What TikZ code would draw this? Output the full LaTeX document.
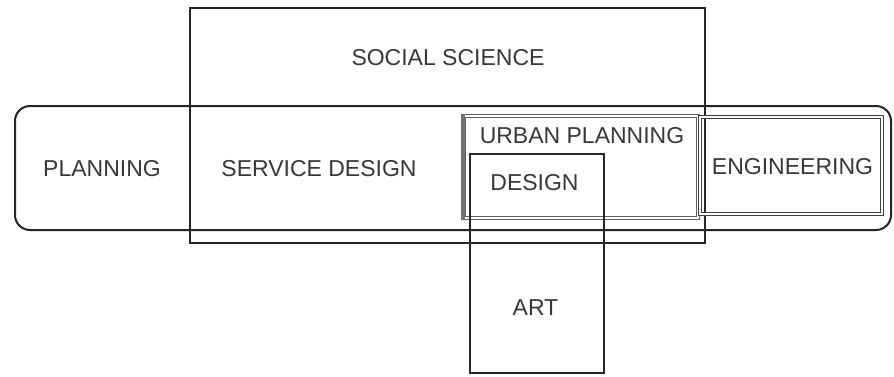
\documentclass[tikz,border=0pt]{standalone}
\usepackage{fontspec}
\setmainfont{Liberation Sans}
\tikzset{
  box/.style={draw=black!85, line width=2pt},
  dbox/.style={draw=black!75, line width=1.3pt, double=white, double distance=2pt},
  lbl/.style={inner sep=0pt, text=black!78, font=\fontsize{23}{26}\selectfont}
}
\begin{document}
\begin{tikzpicture}[x=1pt,y=-1pt]
\useasboundingbox[fill=white] (0,0) rectangle (894,376);
% planning band
\draw[box, rounded corners=15pt] (15,106) rectangle (891,230);
% social science
\draw[box] (190,8) rectangle (705,243);
% urban planning (double, grey)
\draw[dbox, draw=black!62] (464,116) rectangle (698,218);
\draw[draw=black!55, line width=4pt] (462.5,114) -- (462.5,220);
% engineering (double)
\draw[dbox] (700,117) rectangle (882,214);
% design / art
\draw[box] (470,154) rectangle (604,373);
% labels
\node[lbl] (ss) at (448,58) {SOCIAL SCIENCE};
\node[lbl] (pl) at (102,169) {PLANNING};
\node[lbl] (sd) at (319,169) {SERVICE DESIGN};
\node[lbl] (up) at (582,136) {URBAN PLANNING};
\node[lbl] (de) at (534.5,183) {DESIGN};
\node[lbl] (en) at (792.5,167) {ENGINEERING};
\node[lbl] (ar) at (535.5,308) {ART};
\end{tikzpicture}
\end{document}
